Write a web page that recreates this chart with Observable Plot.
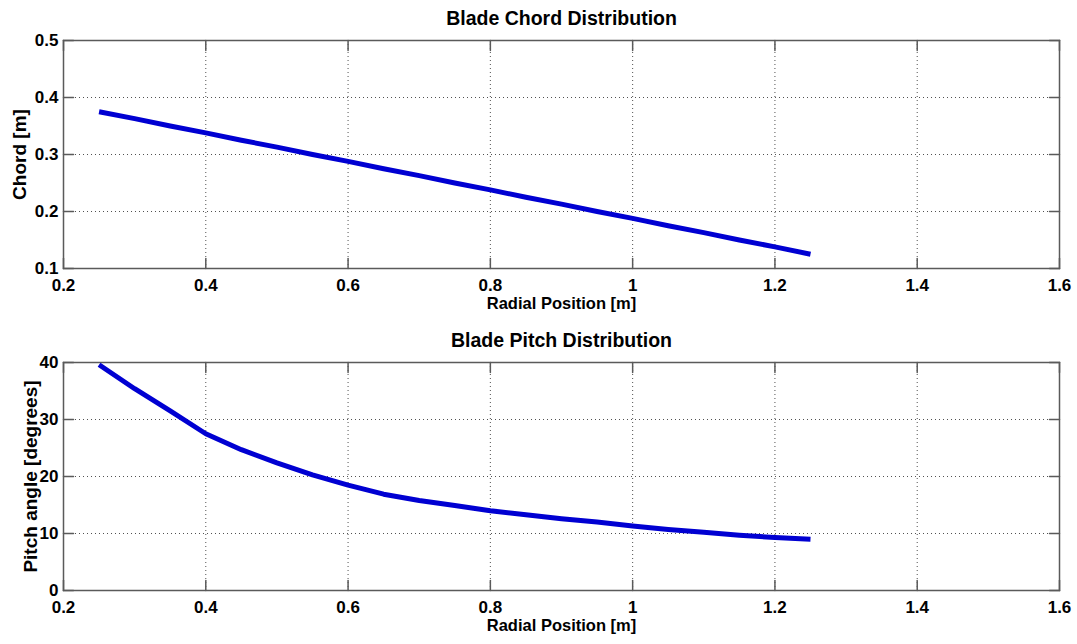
<!DOCTYPE html>
<html>
<head>
<meta charset="utf-8">
<script src="https://cdn.jsdelivr.net/npm/d3@7"></script>
<script src="https://cdn.jsdelivr.net/npm/@observablehq/plot@0.6"></script>
<style>
  html, body { margin: 0; padding: 0; background: #ffffff; }
  #chart svg { display: block; }
</style>
</head>
<body>
<div id="chart"></div>
<script>
// ---- data ----
const radial = [0.25, 0.30, 0.35, 0.40, 0.45, 0.50, 0.55, 0.60, 0.65, 0.70, 0.75,
                0.80, 0.85, 0.90, 0.95, 1.00, 1.05, 1.10, 1.15, 1.20, 1.25];
const chord = [0.375, 0.363, 0.350, 0.338, 0.325, 0.313, 0.300, 0.288, 0.275, 0.263, 0.250,
               0.238, 0.225, 0.213, 0.200, 0.188, 0.175, 0.163, 0.150, 0.138, 0.125];
const pitch = [39.6, 35.4, 31.5, 27.5, 24.7, 22.4, 20.3, 18.5, 16.9, 15.8, 14.9,
               14.0, 13.3, 12.6, 12.0, 11.3, 10.7, 10.2, 9.7, 9.3, 9.0];
const xTicks = [0.2, 0.4, 0.6, 0.8, 1, 1.2, 1.4, 1.6];
const chordTicks = [0.1, 0.2, 0.3, 0.4, 0.5];
const pitchTicks = [0, 10, 20, 30, 40];
const titles = ["Blade Chord Distribution", "Blade Pitch Distribution"];
const yLabels = ["Chord [m]", "Pitch angle [degrees]"];
const xLabel = "Radial Position [m]";

const FONT = "'Liberation Sans', Arial, Helvetica, sans-serif";
const AXIS = "#5a5a5a";
const tickShape = {draw(context, l) { context.moveTo(0, 0); context.lineTo(0, -l); }};

function panel({title, ylabel, values, yDomain, yTicks, ylabelDx}) {
  const data = radial.map((r, i) => ({r, v: values[i]}));
  const tickOpts = {shape: tickShape, anchor: "start", length: 10, stroke: AXIS, strokeWidth: 1.5};
  return Plot.plot({
    width: 1077,
    height: 322,
    marginTop: 40,
    marginBottom: 54,
    marginLeft: 63,
    marginRight: 18,
    style: {fontFamily: FONT, fontSize: "17px", fontWeight: "bold", background: "#ffffff", color: "#000000"},
    x: {type: "linear", domain: [0.2, 1.6]},
    y: {type: "linear", domain: yDomain},
    marks: [
      Plot.gridX({ticks: xTicks, stroke: "#333333", strokeOpacity: 0.85, strokeDasharray: "1,3", strokeWidth: 1}),
      Plot.gridY({ticks: yTicks, stroke: "#333333", strokeOpacity: 0.85, strokeDasharray: "1,3", strokeWidth: 1}),
      Plot.vector(xTicks, {x: d => d, frameAnchor: "bottom", rotate: 0, ...tickOpts}),
      Plot.vector(xTicks, {x: d => d, frameAnchor: "top", rotate: 180, ...tickOpts}),
      Plot.vector(yTicks, {y: d => d, frameAnchor: "left", rotate: 90, ...tickOpts}),
      Plot.vector(yTicks, {y: d => d, frameAnchor: "right", rotate: -90, ...tickOpts}),
      Plot.frame({stroke: AXIS, strokeWidth: 1.5}),
      Plot.axisX({ticks: xTicks, tickSize: 0, tickPadding: 10, tickFormat: d => String(d),
                  label: null, fontSize: 17, fontWeight: "bold", fill: "#000"}),
      Plot.axisY({ticks: yTicks, tickSize: 0, tickPadding: 5, tickFormat: d => String(d),
                  label: null, fontSize: 17, fontWeight: "bold", fill: "#000"}),
      Plot.line(data, {x: "r", y: "v", stroke: "#0000d2", strokeWidth: 5, strokeLinecap: "butt"}),
      Plot.text([title], {frameAnchor: "top", dy: -15.5, lineAnchor: "bottom", textAnchor: "middle",
                          fontSize: 19.5, fontWeight: "bold", fill: "#000"}),
      Plot.text([xLabel], {frameAnchor: "bottom", dy: 40, lineAnchor: "bottom", textAnchor: "middle",
                           fontSize: 16.5, fontWeight: "bold", fill: "#000"}),
      Plot.text([ylabel], {frameAnchor: "left", dx: ylabelDx, rotate: -90, lineAnchor: "top",
                           textAnchor: "middle", fontSize: 19, fontWeight: "bold", fill: "#000"})
    ]
  });
}

const root = document.getElementById("chart");
root.appendChild(panel({title: titles[0], ylabel: yLabels[0], values: chord,
                        yDomain: [0.1, 0.5], yTicks: chordTicks, ylabelDx: -51}));
root.appendChild(panel({title: titles[1], ylabel: yLabels[1], values: pitch,
                        yDomain: [0, 40], yTicks: pitchTicks, ylabelDx: -40}));
</script>
</body>
</html>
